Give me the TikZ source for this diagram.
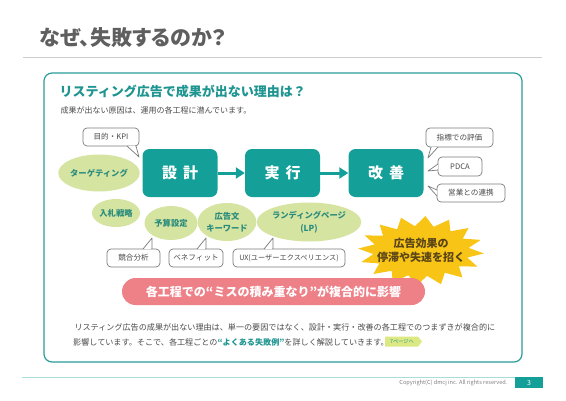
\documentclass[tikz,border=0pt]{standalone}
\usepackage{fontspec}
\setmainfont{Noto Sans CJK JP}
\newfontfamily\jpprop[RawFeature=+palt]{Noto Sans CJK JP}
\usetikzlibrary{arrows.meta,shapes.geometric,calc}
\definecolor{tealbox}{HTML}{14A098}
\definecolor{tealtxt}{HTML}{1E9590}
\definecolor{tealline}{HTML}{2A9D9A}
\definecolor{ellfill}{HTML}{D6E4A2}
\definecolor{elltxt}{HTML}{2A8C7C}
\definecolor{pinkbar}{HTML}{EE8088}
\definecolor{starcol}{HTML}{F8C416}
\definecolor{startxt}{HTML}{5A4518}
\definecolor{titlegray}{HTML}{5F5F5F}
\definecolor{bodygray}{HTML}{4A4A4A}
\definecolor{callgray}{HTML}{7A7A7A}
\definecolor{taggreen}{HTML}{DCE982}
\definecolor{footline}{HTML}{A8DCDC}
\tikzset{
  stepbox/.style={fill=tealbox, rounded corners=7pt, minimum width=75pt, minimum height=48pt, inner sep=0pt, text=white, font=\fontsize{15}{15}\selectfont\bfseries},
  ell/.style={ellipse, fill=ellfill, inner sep=0pt, text=elltxt, align=center, font=\fontsize{8.3}{12.5}\selectfont\bfseries},
  callbox/.style={draw=callgray, line width=0.7pt, fill=white, rounded corners=4pt, inner sep=0pt, text=bodygray, font=\fontsize{7.6}{9}\selectfont},
  flow/.style={draw=tealbox, line width=3pt, -{Triangle[length=9pt,width=11pt]}},
}
\newcommand{\calltail}[3]{%
  \fill[white] ($#1!0.12!#3$) -- #2 -- ($#3!0.12!#1$) -- cycle;
  \draw[callgray, line width=0.7pt, line join=round] #1 -- #2 -- #3;}
\begin{document}
\begin{tikzpicture}[x=1pt,y=-1pt]
\useasboundingbox (0,0) rectangle (566,400);
\fill[white] (0,0) rectangle (566,400);
% title
\node[anchor=west, text=titlegray, font=\jpprop\fontsize{21}{21}\selectfont\bfseries] (title) at (36,38) {なぜ、失敗するのか？};
\draw[black!20, line width=0.8pt] (23,57) coordinate (tl1) -- (542,57) coordinate (tl2);
% frame
\draw[tealline, line width=1.2pt, rounded corners=8pt] (44,73) rectangle (522,362);
\node[anchor=west, text=tealtxt, font=\fontsize{13}{13}\selectfont\bfseries] (sub) at (56,92) {リスティング広告で成果が出ない理由は？};
\node[anchor=west, text=bodygray, font=\fontsize{8}{8}\selectfont] (lead) at (57,110) {成果が出ない原因は、運用の各工程に潜んでいます。};
% steps
\node[stepbox] (s1) at (180,173) {設\hspace{6pt}計};
\node[stepbox] (s2) at (282.5,173) {実\hspace{6pt}行};
\node[stepbox] (s3) at (386,173) {改\hspace{6pt}善};
\draw[flow] (s1.east) -- (s2.west);
\draw[flow] (s2.east) -- (s3.west);
% ellipses
\node[ell, minimum width=68pt, minimum height=37pt] (e1) at (99,173) {ターゲティング};
\node[ell, minimum width=48pt, minimum height=28pt] (e2) at (116,213) {入札戦略};
\node[ell, minimum width=53pt, minimum height=34pt] (e3) at (171,223) {予算設定};
\node[ell, minimum width=56pt, minimum height=38pt] (e4) at (227,222) {広告文\\キーワード};
\node[ell, minimum width=89pt, minimum height=39pt] (e5) at (309,222) {ランディングページ\\(LP)};
% callouts
\node[callbox, minimum width=56pt, minimum height=18pt] (c1) at (111,137) {目的・KPI};
\calltail{(127,146)}{(139,157)}{(136,146)}
\node[callbox, minimum width=67pt, minimum height=19pt] (c2) at (459.5,137.5) {指標での評価};
\calltail{(431,147)}{(428,158)}{(438,147)}
\node[callbox, minimum width=44pt, minimum height=19pt] (c3) at (460,166.5) {PDCA};
\calltail{(438,164)}{(428,171)}{(438,170)}
\node[callbox, minimum width=68pt, minimum height=18pt] (c4) at (471,193) {営業との連携};
\calltail{(437,190)}{(428,186)}{(437,196)}
\node[callbox, minimum width=53pt, minimum height=18pt] (c5) at (133.5,258) {競合分析};
\calltail{(143,249)}{(152,238)}{(152,249)}
\node[callbox, minimum width=54pt, minimum height=18pt] (c6) at (196,258) {ベネフィット};
\calltail{(197,249)}{(206,238)}{(206,249)}
\node[callbox, minimum width=112pt, minimum height=18pt, font=\fontsize{7.2}{9}\selectfont] (c7) at (289,258) {UX(ユーザーエクスペリエンス)};
\calltail{(264,249)}{(273,238)}{(273,249)}
% star
\fill[starcol] plot[samples at={0,...,31}] ({421+(63-15*mod(\x,2))*cos(\x*11.25+4)}, {251+(35-10*mod(\x,2))*sin(\x*11.25+4)}) -- cycle;
\node[text=startxt, align=center, font=\fontsize{11}{14}\selectfont\bfseries] (star) at (421,250) {広告効果の\\停滞や失速を招く};
% pink bar
\fill[pinkbar, rounded corners=13.5pt] (122,278) rectangle (425,305);
\node[text=white, font=\fontsize{12}{12}\selectfont\bfseries] (bar) at (273.5,291.5) {各工程での“ミスの積み重なり”が複合的に影響};
% bottom text
\node[anchor=west, text=bodygray, font=\fontsize{8.1}{8.1}\selectfont] (b1) at (71,327) {リスティング広告の成果が出ない理由は、単一の要因ではなく、設計・実行・改善の各工程でのつまずきが複合的に};
\node[anchor=west, text=bodygray, font=\fontsize{8.1}{8.1}\selectfont, inner xsep=2pt] (b2) at (71,342) {影響しています。そこで、各工程ごとの{\bfseries\color{tealtxt}“よくある失敗例”}を詳しく解説していきます。};
\fill[taggreen] (385,336.5) -- (418,336.5) -- (422,341.5) -- (418,346.5) -- (385,346.5) -- cycle;
\node[text=tealtxt, font=\fontsize{5.2}{5.2}\selectfont] (tag) at (402,341.5) {7ページへ};
% footer
\draw[footline, line width=0.8pt] (22,377) coordinate (f1) -- (515,377) coordinate (f2);
\node[anchor=east, text=black!50, font=\fontsize{5.6}{5.6}\selectfont] (copy) at (511,383) {Copyright(C) dmcj inc. All rights reserved.};
\fill[tealbox] (515,377) rectangle (543,388);
\node[text=white, font=\fontsize{7}{7}\selectfont] (pg) at (529,382.5) {3};
\end{tikzpicture}
\end{document}
